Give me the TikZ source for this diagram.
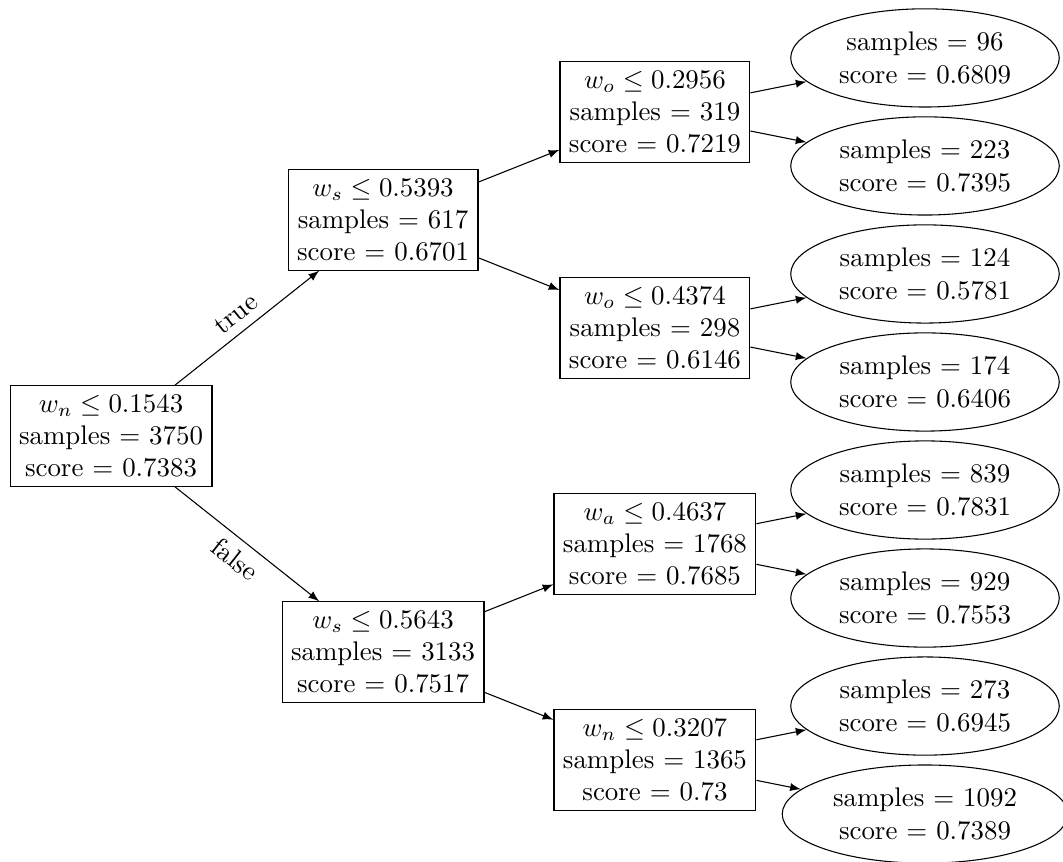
\documentclass[tikz,border=0pt]{standalone}
\usepackage{amsfonts, amssymb, amsmath}
\usepackage{tikz}
\usetikzlibrary{arrows, shapes.geometric}

\begin{document}
\begin{tikzpicture}[>=latex,
    split/.style={draw, align=center},
    leaf/.style={draw, ellipse, align=center}]
    \useasboundingbox (-1.451,-5.556) rectangle (12.444,5.699);
%    \draw[step=1cm,gray!50!white,very thin, dashed] (-1.4,-5.5) grid (12.4,5.6);
    \node[split] (n0) at (0,0) {$w_n \leq 0.1543$\\samples $=$ 3750\\score $=$ 0.7383};
    \node[split] (n1) at (3.556,2.824) {$w_s \leq 0.5393$\\samples $=$ 617\\score $=$ 0.6701};
    \node[split] (n2) at (3.556,-2.824) {$w_s \leq 0.5643$\\samples $=$ 3133\\score $=$ 0.7517};
    \foreach \n/\y/\w/\t/\s/\c in {n11/4.236/o/0.2956/319/0.7219,n12/1.412/o/0.4374/298/0.6146,
                                   n21/-1.412/a/0.4637/1768/0.7685,n22/-4.236/n/0.3207/1365/0.73}
        \node[split] (\n) at (7.11,\y) {$w_\w \leq \t$\\samples $=$ \s\\score $=$ \c};
    \foreach \n/\y/\s/\c in {l1/4.942/96/0.6809,l2/3.530/223/0.7395,l3/2.118/124/0.5781,l4/0.706/174/0.6406,
                             l5/-0.706/839/0.7831,l6/-2.118/929/0.7553,l7/-3.530/273/0.6945,l8/-4.942/1092/0.7389}
        \node[leaf] (\n) at (10.64,\y) {samples $=$ \s\\score $=$ \c};
    \draw [->] (n0) -- node[above, sloped] {true} (n1);
    \draw [->] (n0) -- node[below, sloped] {false} (n2);
    \foreach \p/\q in {n1/n11,n1/n12,n2/n21,n2/n22,n11/l1,n11/l2,n12/l3,n12/l4,n21/l5,n21/l6,n22/l7,n22/l8}
        \draw [->] (\p) -- (\q);
\end{tikzpicture}
\end{document}
